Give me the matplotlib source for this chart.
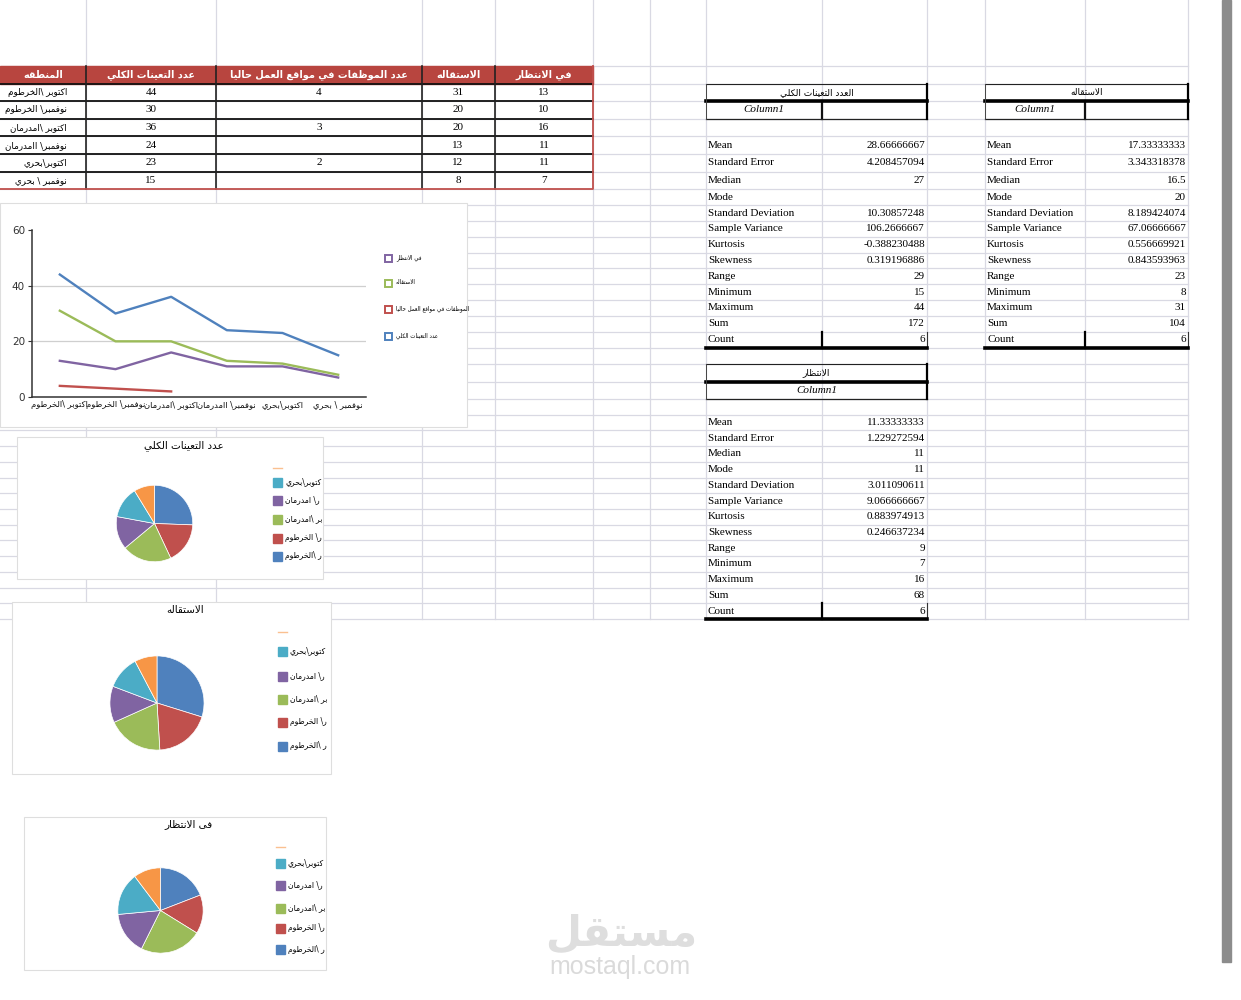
import numpy as np
import matplotlib
matplotlib.use('Agg')
import matplotlib.pyplot as plt
from matplotlib.patches import Rectangle

# ---- data ----
regions = ['اكتوبر \\الخرطوم', 'نوفمبر\\ الخرطوم', 'اكتوبر \\امدرمان',
           'نوفمبر\\ اامدرمان', 'اكتوبر\\بحري', 'نوفمبر \\ بحري']
total_jobs = [44, 30, 36, 24, 23, 15]
employed_now = [4, None, 3, None, 2, None]
resigned = [31, 20, 20, 13, 12, 8]
waiting = [13, 10, 16, 11, 11, 7]
headers = ['المنطقه', 'عدد التعينات الكلي', 'عدد الموظفات في مواقع العمل حاليا',
           'الاستقاله', 'في الانتظار']

stat_names = ['Mean', 'Standard Error', 'Median', 'Mode', 'Standard Deviation',
              'Sample Variance', 'Kurtosis', 'Skewness', 'Range', 'Minimum',
              'Maximum', 'Sum', 'Count']
stats_total = ['28.66666667', '4.208457094', '27', '', '10.30857248', '106.2666667',
               '-0.388230488', '0.319196886', '29', '15', '44', '172', '6']
stats_resigned = ['17.33333333', '3.343318378', '16.5', '20', '8.189424074',
                  '67.06666667', '0.556669921', '0.843593963', '23', '8', '31', '104', '6']
stats_waiting = ['11.33333333', '1.229272594', '11', '11', '3.011090611', '9.066666667',
                 '0.883974913', '0.246637234', '9', '7', '16', '68', '6']
stats_titles = ['العدد التعينات الكلي', 'الاستقاله', 'الانتظار']

line_legend = ['في الانتظار', 'الاستقاله', 'الموظفات في مواقع العمل حاليا', 'عدد التعينات الكلي']
pie_titles = ['عدد التعينات الكلي', 'الاستقاله', 'فى الانتظار']
pie_legend = ['ر \\الخرطوم', 'ر\\ الخرطوم', 'بر \\امدرمان', 'ر\\ امدرمان', 'كتوبر\\بحري']

BLUE, RED, GREEN, PURPLE, CYAN, ORANGE = '#4f81bd', '#c0504d', '#9bbb59', '#8064a2', '#4bacc6', '#f79646'
pie_colors = [BLUE, RED, GREEN, PURPLE, CYAN, ORANGE]

# ---- minimal arabic shaping (presentation forms) + visual reversal ----
FORMS = {
    'ا': (0xFE8D, 0xFE8E, None, None), 'ب': (0xFE8F, 0xFE90, 0xFE91, 0xFE92),
    'ت': (0xFE95, 0xFE96, 0xFE97, 0xFE98), 'ح': (0xFEA1, 0xFEA2, 0xFEA3, 0xFEA4),
    'خ': (0xFEA5, 0xFEA6, 0xFEA7, 0xFEA8), 'د': (0xFEA9, 0xFEAA, None, None),
    'ر': (0xFEAD, 0xFEAE, None, None), 'س': (0xFEB1, 0xFEB2, 0xFEB3, 0xFEB4),
    'ط': (0xFEC1, 0xFEC2, 0xFEC3, 0xFEC4), 'ظ': (0xFEC5, 0xFEC6, 0xFEC7, 0xFEC8),
    'ع': (0xFEC9, 0xFECA, 0xFECB, 0xFECC), 'ف': (0xFED1, 0xFED2, 0xFED3, 0xFED4),
    'ق': (0xFED5, 0xFED6, 0xFED7, 0xFED8), 'ك': (0xFED9, 0xFEDA, 0xFEDB, 0xFEDC),
    'ل': (0xFEDD, 0xFEDE, 0xFEDF, 0xFEE0), 'م': (0xFEE1, 0xFEE2, 0xFEE3, 0xFEE4),
    'ن': (0xFEE5, 0xFEE6, 0xFEE7, 0xFEE8), 'ه': (0xFEE9, 0xFEEA, 0xFEEB, 0xFEEC),
    'و': (0xFEED, 0xFEEE, None, None), 'ى': (0xFEEF, 0xFEF0, None, None),
    'ي': (0xFEF1, 0xFEF2, 0xFEF3, 0xFEF4),
}


def ar(s):
    out = []
    i = 0
    while i < len(s):
        c = s[i]
        if c not in FORMS:
            out.append(c)
            i += 1
            continue
        prev = s[i - 1] if i > 0 else None
        pj = prev in FORMS and FORMS[prev][2] is not None
        if c == 'ل' and i + 1 < len(s) and s[i + 1] == 'ا':
            out.append(chr(0xFEFC if pj else 0xFEFB))
            i += 2
            continue
        nxt = s[i + 1] if i + 1 < len(s) else None
        nj = FORMS[c][2] is not None and nxt in FORMS
        iso, fin, ini, med = FORMS[c]
        if pj and nj:
            out.append(chr(med))
        elif pj:
            out.append(chr(fin))
        elif nj:
            out.append(chr(ini))
        else:
            out.append(chr(iso))
        i += 1
    return ''.join(reversed(out))


W, H = 1241, 1000
AR = ['DejaVu Sans']
SERIF = ['Liberation Serif']


def frect(x0, y0, x1, y1):
    return [x0 / W, 1 - y1 / H, (x1 - x0) / W, (y1 - y0) / H]


fig = plt.figure(figsize=(W / 100, H / 100), dpi=100)
ax = fig.add_axes([0, 0, 1, 1])
ax.set_xlim(0, W)
ax.set_ylim(H, 0)
ax.axis('off')

# ---- spreadsheet grid ----
grid_c = '#d9d9e3'
vlines = [86, 216, 422, 495, 593, 650, 706, 822, 927, 985, 1085, 1188]
rows = ([66, 83.5, 101, 118.7, 136.4, 154, 171.7] + list(np.linspace(189.4, 347.5, 11))
        + [364, 382] + list(np.linspace(399, 619, 15)))
for x in vlines:
    ax.plot([x, x], [0, 619], color=grid_c, lw=0.9, zorder=1)
for y in rows:
    ax.plot([0, 1188], [y, y], color=grid_c, lw=0.9, zorder=1)

# scrollbar
ax.add_patch(Rectangle((1222, 0), 9, 962, color='#8c8c8c', zorder=2))

# ---- data table ----
cols = [0, 86, 216, 422, 495, 593]
hdr_red = '#b8453f'
ax.add_patch(Rectangle((0, rows[0]), 593, rows[1] - rows[0], color=hdr_red, zorder=2))
for j, h in enumerate(headers):
    ax.text((cols[j] + cols[j + 1]) / 2, (rows[0] + rows[1]) / 2, ar(h), color='white',
            fontsize=7, fontweight='bold', family=AR, ha='center', va='center', zorder=3)
for r in range(6):
    yc = (rows[r + 1] + rows[r + 2]) / 2
    ax.text(67, yc, ar(regions[r]), fontsize=6.3, family=AR, ha='right', va='center', zorder=3)
    ax.text(151, yc, str(total_jobs[r]), fontsize=8, family=SERIF, ha='center', va='center', zorder=3)
    if employed_now[r] is not None:
        ax.text(319, yc, str(employed_now[r]), fontsize=8, family=SERIF, ha='center', va='center', zorder=3)
    ax.text(458, yc, str(resigned[r]), fontsize=8, family=SERIF, ha='center', va='center', zorder=3)
    ax.text(544, yc, str(waiting[r]), fontsize=8, family=SERIF, ha='center', va='center', zorder=3)
for y in rows[1:7]:
    ax.plot([0, 593], [y, y], color='#111', lw=1.3, zorder=3)
for x in cols[1:5]:
    ax.plot([x, x], [rows[0], rows[7]], color='#222', lw=1.2, zorder=3)
ax.plot([0, 593, 593], [rows[7], rows[7], rows[0]], color=RED, lw=1.3, zorder=3)


# ---- descriptive statistics tables ----
def stats_table(x0, xm, x1, r0, title, values, split_col1=True):
    yt = (rows[r0] + rows[r0 + 1]) / 2
    ax.text((x0 + x1) / 2, yt, ar(title), fontsize=6.5, family=AR, ha='center', va='center', zorder=3)
    yc = (rows[r0 + 1] + rows[r0 + 2]) / 2
    if split_col1:
        ax.text((x0 + xm) / 2, yc, 'Column1', fontsize=8, family=SERIF, style='italic',
                ha='center', va='center', zorder=3)
        ax.plot([xm, xm], [rows[r0 + 1], rows[r0 + 2]], color='#111', lw=1.6, zorder=3)
    else:
        ax.text((x0 + x1) / 2, yc, 'Column1', fontsize=8, family=SERIF, style='italic',
                ha='center', va='center', zorder=3)
    ax.plot([x0, x1], [rows[r0], rows[r0]], color='#222', lw=0.8, zorder=3)
    ax.plot([x0, x1], [rows[r0 + 1], rows[r0 + 1]], color='#000', lw=2.6, zorder=3)
    ax.plot([x0, x1], [rows[r0 + 2], rows[r0 + 2]], color='#222', lw=0.9, zorder=3)
    ax.plot([x0, x0], [rows[r0], rows[r0 + 2]], color='#444', lw=0.7, zorder=3)
    ax.plot([x1, x1], [rows[r0], rows[r0 + 2]], color='#000', lw=1.6, zorder=3)
    for k, name in enumerate(stat_names):
        a, b = rows[r0 + 3 + k], rows[r0 + 4 + k]
        ym = (a + b) / 2
        ax.text(x0 + 2, ym, name, fontsize=8, family=SERIF, ha='left', va='center', zorder=3)
        ax.text(x1 - 2, ym, values[k], fontsize=8, family=SERIF, ha='right', va='center', zorder=3)
    a, b = rows[r0 + 15], rows[r0 + 16]
    ax.plot([xm, xm], [a, b], color='#000', lw=1.6, zorder=3)
    ax.plot([x1, x1], [a, b], color='#333', lw=0.8, zorder=3)
    ax.plot([x0, x1], [b, b], color='#000', lw=2.6, zorder=3)


stats_table(706, 822, 927, 1, stats_titles[0], stats_total)
stats_table(985, 1085, 1188, 1, stats_titles[1], stats_resigned)
stats_table(706, 822, 927, 18, stats_titles[2], stats_waiting, split_col1=False)

# ---- line chart ----
box_c = '#dedede'
ax.add_patch(Rectangle((0, 203), 467, 224, facecolor='white', edgecolor=box_c, lw=0.8, zorder=4))
lax = fig.add_axes(frect(32, 230, 366, 397))
lax.set_facecolor('none')
x = np.arange(len(regions))
emp_line = [v for v in employed_now if v is not None]
lax.plot(x, total_jobs, color=BLUE, lw=1.7)
lax.plot(x, resigned, color=GREEN, lw=1.7)
lax.plot(x, waiting, color=PURPLE, lw=1.7)
lax.plot(np.arange(len(emp_line)), emp_line, color=RED, lw=1.7)
lax.set_xlim(-0.5, 5.5)
lax.set_ylim(0, 60)
lax.set_yticks([0, 20, 40, 60])
for g in [20, 40]:
    lax.axhline(g, color='#cfcfcf', lw=0.9, zorder=0)
lax.set_xticks(x)
lax.set_xticklabels([ar(r) for r in regions], fontsize=6, family=AR, color='#111')
lax.tick_params(axis='y', labelsize=7.5, colors='#333', length=3, width=0.8, pad=2)
lax.tick_params(axis='x', length=0, pad=2)
for s in ['top', 'right']:
    lax.spines[s].set_visible(False)
lax.spines['left'].set_color('#333')
lax.spines['bottom'].set_color('#333')
lax.spines['left'].set_linewidth(1.1)
lax.spines['bottom'].set_linewidth(1.1)

leg_cols = [PURPLE, GREEN, RED, BLUE]
leg_y = [258, 283, 309, 336]
for lab, c, yy in zip(line_legend, leg_cols, leg_y):
    ax.add_patch(Rectangle((385, yy - 3.5), 7, 7, facecolor='white', edgecolor=c, lw=1.4, zorder=5))
    ax.text(396, yy, ar(lab), fontsize=4, family=AR, ha='left', va='center', zorder=5)

# ---- pie charts ----
pie_specs = [
    # box (x0, y0, x1, y1), centre, radius, title y, legend square x, legend ys
    ((17, 437, 323, 579), (154.5, 523.5), 39, 446, 273, [468, 482, 500, 519, 538, 556], total_jobs),
    ((12, 602, 331, 774), (157, 703), 48, 610, 278, [632, 651, 676, 699, 722, 746], resigned),
    ((24, 817, 326, 970), (160.5, 910.5), 43.5, 824, 276, [847, 863, 885, 908, 928, 949], waiting),
]
for (bx, (cx, cy), rad, ty, lx, lys, vals), title in zip(pie_specs, pie_titles):
    ax.add_patch(Rectangle((bx[0], bx[1]), bx[2] - bx[0], bx[3] - bx[1],
                           facecolor='white', edgecolor=box_c, lw=0.8, zorder=4))
    ax.text((bx[0] + bx[2]) / 2 + 14, ty, ar(title), fontsize=7.5, family=AR,
            ha='center', va='center', zorder=5)
    pax = fig.add_axes(frect(cx - rad, cy - rad, cx + rad, cy + rad))
    pax.pie(vals, colors=pie_colors, startangle=90, counterclock=False, radius=1,
            wedgeprops=dict(edgecolor='white', linewidth=0.5))
    pax.set_xlim(-1.02, 1.02)
    pax.set_ylim(-1.02, 1.02)
    pax.axis('off')
    # legend: orange entry is cut off at the top
    ax.plot([lx, lx + 9], [lys[0], lys[0]], color=ORANGE, lw=1, alpha=0.6, zorder=5)
    for k, yy in enumerate(lys[1:]):
        idx = 4 - k
        ax.add_patch(Rectangle((lx, yy - 4.5), 9, 9, color=pie_colors[idx], zorder=5))
        ax.text(lx + 12, yy, ar(pie_legend[idx]), fontsize=5.5, family=AR,
                ha='left', va='center', zorder=5)

# ---- watermark ----
ax.text(621, 933, ar('مستقل'), fontsize=30, fontweight='bold', family=AR, color='#dedede',
        ha='center', va='center', zorder=6)
ax.text(620, 967, 'mostaql.com', fontsize=18, family=['Liberation Sans'], color='#dadada',
        ha='center', va='center', zorder=6)

fig.savefig('out.png', dpi=100, facecolor='white')
